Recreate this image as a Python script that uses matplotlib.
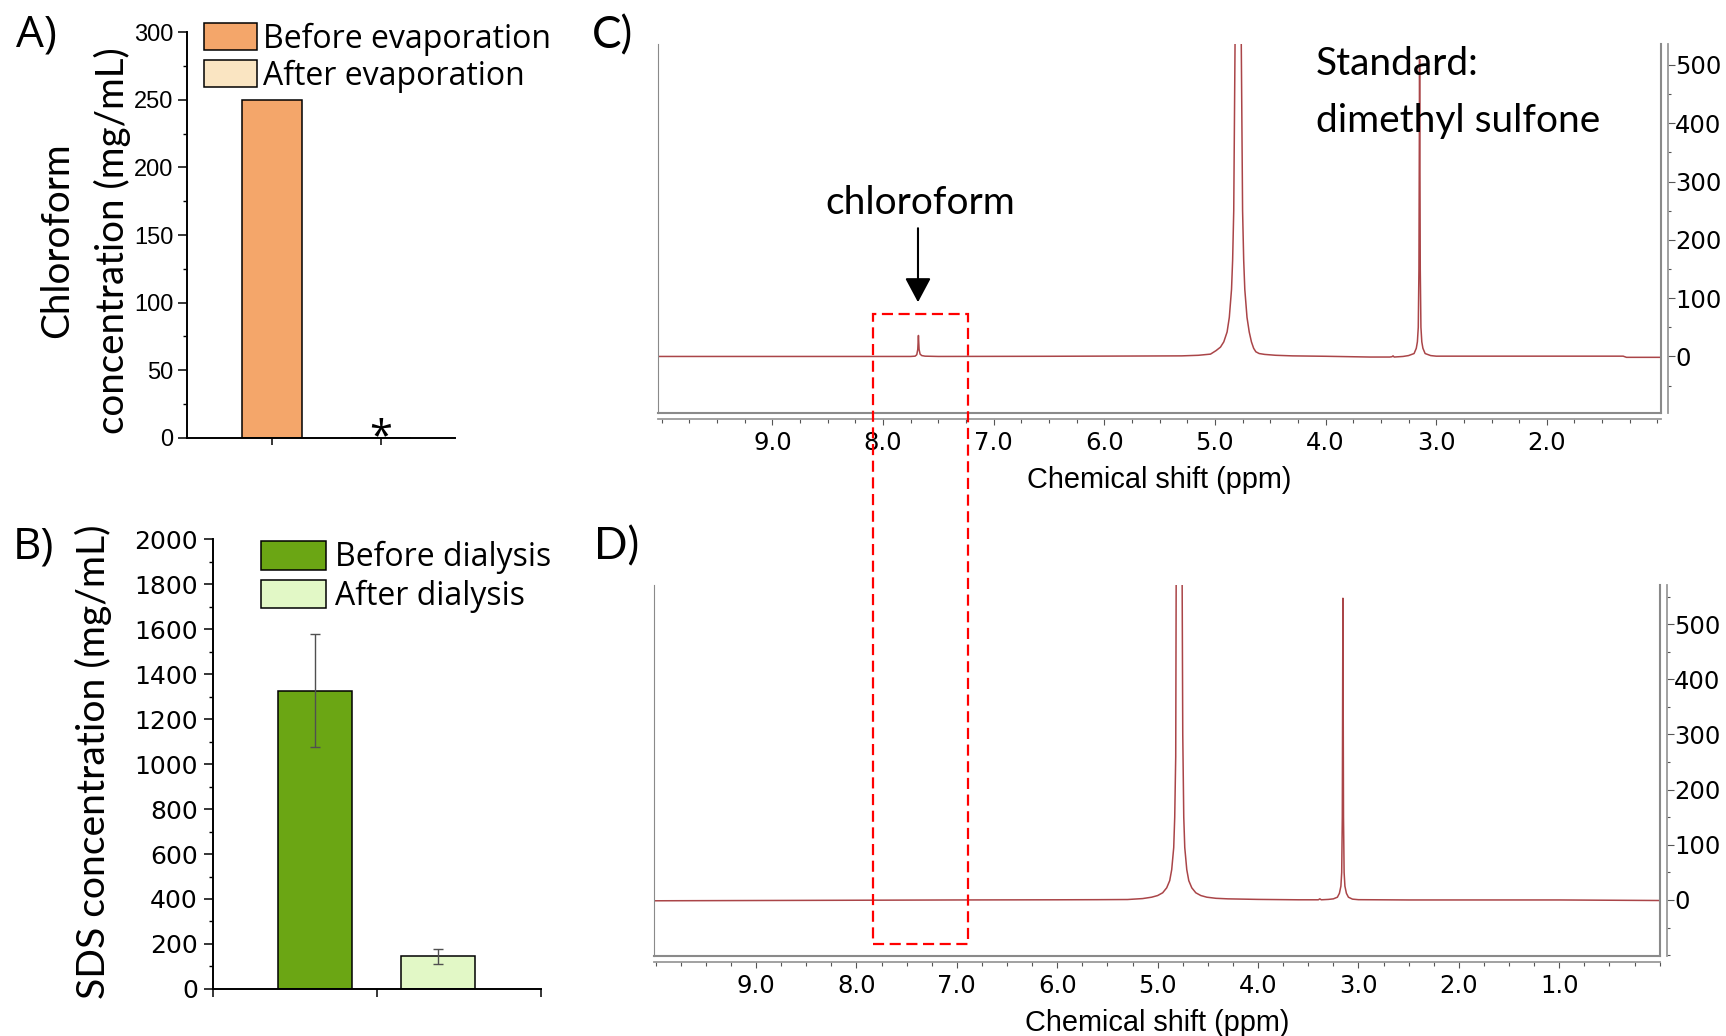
import matplotlib
matplotlib.use('Agg')
import matplotlib.pyplot as plt
from matplotlib.patches import Rectangle
from matplotlib.lines import Line2D
from matplotlib.ticker import MultipleLocator, FixedLocator, FormatStrFormatter

plt.rcParams['font.family'] = ['Liberation Sans', 'DejaVu Sans']

# A) chloroform before / after evaporation
evap_labels = ['Before evaporation', 'After evaporation']
evap_values = [250, 0]

# B) SDS before / after dialysis
dial_labels = ['Before dialysis', 'After dialysis']
dial_values = [1327, 145]
dial_errors = [250, 34]

# C) 1H NMR before evaporation (ppm, intensity)
c_ppm = [10.03, 9.0, 8.2, 7.75, 7.71, 7.695, 7.686, 7.68, 7.674, 7.665, 7.65, 7.62, 7.5,
         6.5, 5.6, 5.30, 5.15, 5.04, 4.99, 4.95, 4.92, 4.89, 4.87, 4.85, 4.84, 4.83, 4.818,
         4.80, 4.79, 4.78, 4.762, 4.75, 4.74, 4.73, 4.71, 4.69, 4.67, 4.65, 4.63, 4.60,
         4.55, 4.45, 4.30, 4.0, 3.6, 3.42, 3.40, 3.39, 3.38, 3.30, 3.25, 3.20, 3.18, 3.17,
         3.162, 3.156, 3.15, 3.144, 3.138, 3.13, 3.12, 3.10, 3.05, 3.0, 2.5, 2.0, 1.5, 1.31,
         1.28, 0.968]
c_int = [0, 0, 0, 0, 0.5, 3, 12, 36, 12, 4, 1.5, 0.5, 0,
         0.3, 0.8, 1, 2, 4, 10, 16, 25, 42, 67, 115, 165, 250, 540,
         1500, 3000, 1500, 540, 250, 165, 115, 67, 42, 25, 14, 8, 5,
         3.5, 2, 1, 0.3, -1, -1, -0.5, 1, -1, 0, 1.5, 5, 14, 25,
         50, 150, 510, 150, 50, 25, 14, 5, 1.5, 0.5, 0.5, 0.5, 0.5, 0.5,
         -1.5, -1.5]

# D) 1H NMR after evaporation
d_ppm = [10.016, 9.0, 8.0, 7.0, 6.0, 5.6, 5.30, 5.15, 5.06, 5.0, 4.95, 4.91, 4.88, 4.86,
         4.84, 4.83, 4.82, 4.815, 4.80, 4.786, 4.772, 4.757, 4.75, 4.74, 4.73, 4.71, 4.69,
         4.66, 4.62, 4.57, 4.51, 4.42, 4.30, 4.0, 3.6, 3.40, 3.385, 3.37, 3.30, 3.25, 3.21,
         3.19, 3.175, 3.167, 3.161, 3.155, 3.149, 3.143, 3.135, 3.12, 3.10, 3.06, 3.0, 2.5,
         1.0, -0.003]
d_int = [-1.5, -1, -0.5, 0, 0.3, 0.5, 0.8, 2.5, 5, 8, 13, 22, 35, 55,
         95, 150, 260, 620, 2000, 4000, 2000, 620, 300, 150, 95, 55, 35,
         22, 13, 8, 5, 3, 2, 1, 0.3, 0.3, 2, 0.3, 1, 2, 5,
         12, 25, 50, 150, 547, 150, 50, 25, 12, 5, 1.5, 0.5, 0,
         0, -1]

W, H = 1726, 1036
fig = plt.figure(figsize=(W / 100, H / 100), dpi=100)
CAL = ['Lato', 'DejaVu Sans']
WIDE = ['Open Sans', 'DejaVu Sans']
NMR = '#AA4548'


def axes_px(x0, y0, x1, y1):
    return fig.add_axes([x0 / W, 1 - y1 / H, (x1 - x0) / W, (y1 - y0) / H])


def bar_axes_style(ax, labelsize, pad, family, xlen):
    for s in ['top', 'right']:
        ax.spines[s].set_visible(False)
    for s in ['left', 'bottom']:
        ax.spines[s].set_linewidth(1.4)
    ax.tick_params(axis='y', which='major', length=6.2, width=1.1, labelsize=labelsize, pad=pad)
    ax.tick_params(axis='y', which='minor', length=3, width=1.0)
    ax.tick_params(axis='x', which='major', length=xlen, width=1.1, labelbottom=False)
    for t in ax.get_yticklabels():
        t.set_family(family)


# ---- A ----
axA = axes_px(186.5, 32.3, 455.1, 437.7)
barsA = axA.bar(range(len(evap_values)), evap_values, width=0.55,
                color=['#F4A66A', '#FAE5C2'], edgecolor='black', linewidth=1.1)
axA.set_xlim(-0.78, 1.68)
axA.set_ylim(0, 300)
axA.set_xticks([0, 1])
axA.yaxis.set_major_locator(MultipleLocator(50))
axA.yaxis.set_minor_locator(MultipleLocator(25))
bar_axes_style(axA, 17, 3, ['Liberation Sans'], 5)
axA.set_ylabel('Chloroform\nconcentration (mg/mL)', family=CAL, fontsize=27.7,
               linespacing=1.6, multialignment='center')
axA.yaxis.set_label_coords(-0.208, 0.487)
axA.annotate('*', xy=(1, 0), xytext=(0, -8.4), textcoords='offset points',
             ha='center', va='baseline', fontsize=30, family=WIDE)
axA.legend(barsA.patches, evap_labels, loc='upper left',
           bbox_to_anchor=(203.6 / W, 1 - 22.3 / H), bbox_transform=fig.transFigure,
           frameon=False, borderpad=0, borderaxespad=0, handlelength=1.67,
           handleheight=0.92, handletextpad=0.18, labelspacing=0.13,
           prop={'family': WIDE, 'size': 23})

# ---- B ----
axB = axes_px(212.7, 539.3, 540.9, 988.9)
posB = [1 - 0.375, 1 + 0.375]
barsB = axB.bar(posB, dial_values, width=0.45, yerr=dial_errors,
                color=['#6BA614', '#E2F8C6'], edgecolor='black', linewidth=1.1,
                error_kw=dict(ecolor='#505050', elinewidth=1.0, capsize=3.3, capthick=1.0))
axB.set_xlim(0, 2)
axB.set_ylim(0, 2000)
axB.set_xticks([0, 1, 2])
axB.yaxis.set_major_locator(MultipleLocator(200))
axB.yaxis.set_minor_locator(MultipleLocator(100))
bar_axes_style(axB, 18, 4.5, ['DejaVu Sans'], 6)
axB.set_ylabel('SDS concentration (mg/mL)', family=CAL, fontsize=28.2)
axB.yaxis.set_label_coords(-0.306, 0.506)
axB.legend(barsB.patches, dial_labels, loc='upper left',
           bbox_to_anchor=(260.6 / W, 1 - 541 / H), bbox_transform=fig.transFigure,
           frameon=False, borderpad=0, borderaxespad=0, handlelength=2.05,
           handleheight=1.0, handletextpad=0.27, labelspacing=0.17,
           prop={'family': WIDE, 'size': 23})


# ---- C / D spectra ----
def nmr_axes(ax, ppm, inten, xlim, ylim, majors):
    ax.plot(ppm, inten, color=NMR, lw=1.1)
    ax.set_xlim(*xlim)
    ax.set_ylim(*ylim)
    ax.spines['top'].set_visible(False)
    ax.spines['left'].set_color('#8a8a8a')
    ax.spines['left'].set_linewidth(0.8)
    ax.spines['bottom'].set_position(('outward', 4))
    ax.spines['right'].set_position(('outward', 5))
    for s in ['bottom', 'right']:
        ax.spines[s].set_color('#9a9a9a')
        ax.spines[s].set_linewidth(1.3)
    for xy in [([0, 1], [0, 0]), ([1, 1], [0, 1])]:
        ax.add_line(Line2D(*xy, transform=ax.transAxes, color='#8a8a8a', lw=1.5, clip_on=False))
    ax.yaxis.tick_right()
    ax.xaxis.set_major_locator(FixedLocator(majors))
    ax.xaxis.set_minor_locator(MultipleLocator(0.25))
    ax.xaxis.set_major_formatter(FormatStrFormatter('%.1f'))
    ax.yaxis.set_major_locator(FixedLocator(range(0, 501, 100)))
    ax.yaxis.set_minor_locator(MultipleLocator(50))
    ax.tick_params(which='both', color='#555555', width=0.8, labelsize=17.5)
    ax.tick_params(axis='x', which='major', length=4, pad=5)
    ax.tick_params(axis='x', which='minor', length=3)
    ax.tick_params(axis='y', which='major', length=4.8, pad=0.5)
    ax.tick_params(axis='y', which='minor', length=2.5)
    for t in ax.get_xticklabels() + ax.get_yticklabels():
        t.set_family(['DejaVu Sans'])
    ax.set_xlabel('Chemical shift (ppm)', fontsize=20.8, labelpad=7.7)


axC = axes_px(658, 44, 1661, 413)
nmr_axes(axC, c_ppm, c_int, (10.034, 0.968), (-97, 536), range(2, 10))
axC.text(7.66, 245, 'chloroform', ha='center', va='baseline', fontsize=28, family=CAL)
axC.annotate('', xy=(7.684, 93), xytext=(7.684, 220),
             arrowprops=dict(arrowstyle='-|>,head_length=0.75,head_width=0.4',
                             color='black', lw=1.5, shrinkA=0, shrinkB=0, mutation_scale=20))
fig.text(1316 / W, 1 - 46 / H, 'Standard:\ndimethyl sulfone', ha='left', va='top',
         fontsize=28, family=CAL, linespacing=1.74)

axD = axes_px(654, 585, 1660, 956)
nmr_axes(axD, d_ppm, d_int, (10.016, -0.003), (-101.6, 571), range(1, 10))

# dashed box linking the chloroform region of C and D
fig.add_artist(Rectangle((872.7 / W, 1 - 944 / H), (968.3 - 872.7) / W, (944 - 314.3) / H,
                         transform=fig.transFigure, fill=False, edgecolor='#FF0000',
                         lw=1.6, linestyle=(0, (5, 2.5)), zorder=10))

for lbl, x, y, fam in [('A)', 16.4, 46.7, WIDE), ('B)', 12.7, 558.1, WIDE),
                       ('C)', 591.7, 48.3, CAL), ('D)', 594, 559, CAL)]:
    fig.text(x / W, 1 - y / H, lbl, fontsize=31.8, family=fam, va='baseline')

fig.savefig('out.png', dpi=100)
